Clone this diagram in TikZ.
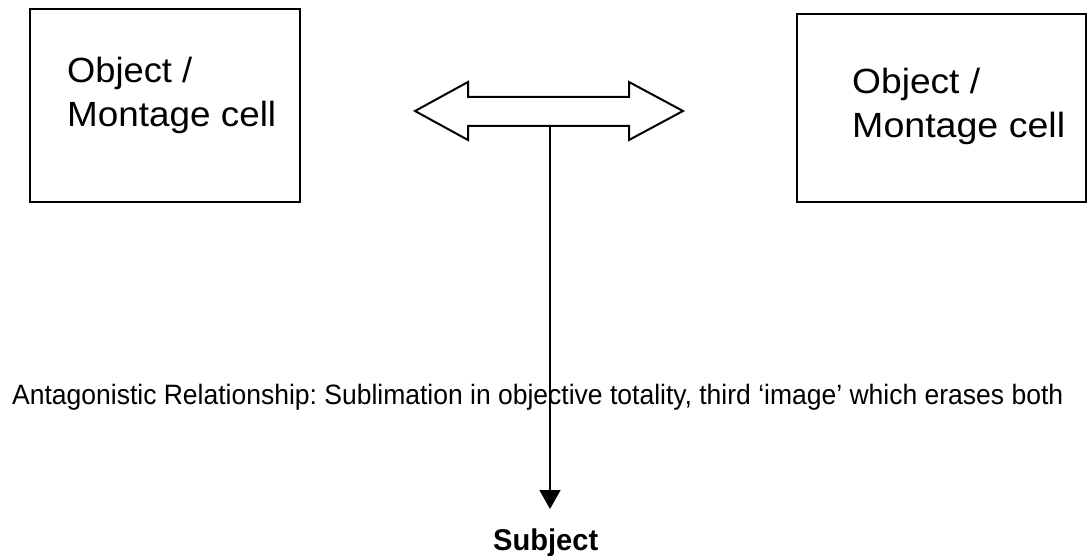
\documentclass[tikz,border=0pt]{standalone}
\usepackage{fontspec}
\setmainfont{Liberation Sans}
\frenchspacing
\usetikzlibrary{arrows.meta}
\tikzset{
  cellbox/.style={draw=black, line width=2pt, fill=white, inner sep=0pt},
  celltext/.style={anchor=base west, inner sep=0pt, align=left,
    font=\fontsize{35}{44.5}\selectfont},
  twoway/.style={draw=black, line width=2pt, line join=miter, fill=white},
  link/.style={draw=black, line width=1.5pt,
    -{Triangle[width=21pt,length=19pt]}},
  caption/.style={anchor=base west, inner sep=0pt,
    font=\fontsize{28}{32}\selectfont},
  target/.style={anchor=base west, inner sep=0pt,
    font=\fontsize{30}{34}\selectfont\bfseries}
}
\begin{document}
\begin{tikzpicture}[x=1pt,y=-1pt]
  \useasboundingbox[fill=white] (0,0) rectangle (1090,556);

  % the two montage cells
  \node[cellbox, minimum width=270pt, minimum height=193pt] (cellA) at (165,105.5) {};
  \node[cellbox, minimum width=289pt, minimum height=188pt] (cellB) at (941.5,108) {};
  % anchored on the baseline of the second line
  \node[celltext] (textA) at (67,127)
    {\resizebox{125pt}{\height}{Object /}\\\resizebox{209pt}{\height}{Montage cell}};
  \node[celltext] (textB) at (852,138)
    {\resizebox{128pt}{\height}{Object /}\\\resizebox{213pt}{\height}{Montage cell}};

  % double-headed block arrow between the cells
  \draw[twoway] (415,111) -- (468,82) -- (468,97) -- (629,97) -- (629,82)
    -- (683,111) -- (629,140) -- (629,126) -- (468,126) -- (468,140) -- cycle;
  \coordinate (stem) at (550,126);

  % relationship caption
  \node[caption] (rel) at (12,404)
    {\resizebox{1051pt}{\height}{Antagonistic Relationship: Sublimation in objective totality, third ‘image’ which erases both}};

  % the subject below
  \node[target] (subj) at (493,550) {\resizebox{105pt}{\height}{Subject}};
  \coordinate (tip) at (550,509);

  \draw[link] (stem) -- (tip);
\end{tikzpicture}
\end{document}
